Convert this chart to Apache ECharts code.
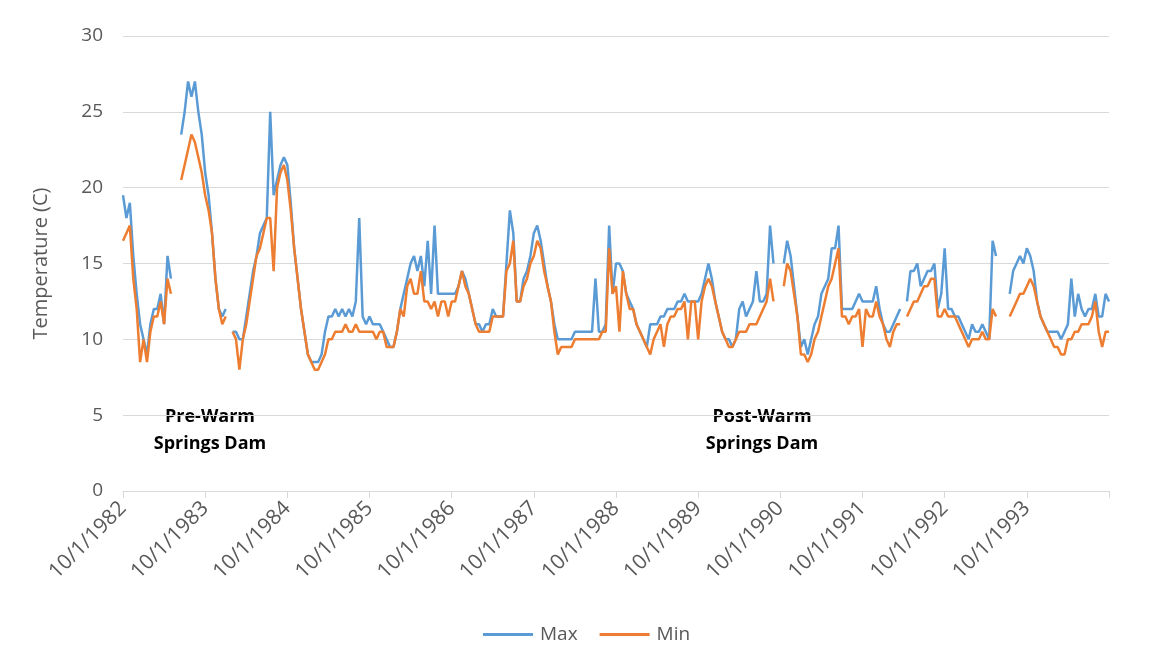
<!DOCTYPE html>
<html>
<head>
<meta charset="utf-8">
<script src="https://cdn.jsdelivr.net/npm/echarts@6/dist/echarts.min.js"></script>
<style>
  html, body { margin: 0; padding: 0; background: #ffffff; }
  #chart { width: 1152px; height: 669px; }
</style>
</head>
<body>
<div id="chart"></div>
<script>
// X axis: years since 10/1/1982, tick labels every year
const tickLabels = ['10/1/1982','10/1/1983','10/1/1984','10/1/1985','10/1/1986','10/1/1987',
  '10/1/1988','10/1/1989','10/1/1990','10/1/1991','10/1/1992','10/1/1993',''];
const samplesPerYear = 24; // half-monthly readings from 10/1/1982

// Daily maximum water temperature (C), half-monthly readings, one row per water year
const maxTemp = [
  19.5,18,19,15.5,13,11,10,9,11,12,12,13,11,15.5,14,null,null,23.5,25,27,26,27,25,23.5,
  21,19.5,17,14,12,11.5,12,null,10.5,10.5,10,10,11.5,13,14.5,15.5,17,17.5,18,25,19.5,20.5,21.5,22,
  21.5,19,16,14,12,10.5,9,8.5,8.5,8.5,9,10.5,11.5,11.5,12,11.5,12,11.5,12,11.5,12.5,18,11.5,11,
  11.5,11,11,11,10.5,10,9.5,9.5,10.5,12,13,14,15,15.5,14.5,15.5,13.5,16.5,13,17.5,13,13,13,13,
  13,13,13.5,14.5,14,13,12,11,11,10.5,11,11,12,11.5,11.5,11.5,15,18.5,17,12.5,12.5,14,14.5,15.5,
  17,17.5,16.5,15,13.5,12.5,11,10,10,10,10,10,10.5,10.5,10.5,10.5,10.5,10.5,14,10.5,10.5,11,17.5,13,
  15,15,14.5,13,12.5,12,11,10.5,10,9.5,11,11,11,11.5,11.5,12,12,12,12.5,12.5,13,12.5,12.5,12.5,
  12.5,13,14,15,14,12.5,11.5,10.5,10,10,9.5,10,12,12.5,11.5,12,12.5,14.5,12.5,12.5,13,17.5,15,null,
  null,15,16.5,15.5,13.5,11.5,9.5,10,9,10,11,11.5,13,13.5,14,16,16,17.5,12,12,12,12,12.5,13,
  12.5,12.5,12.5,12.5,13.5,12,11,10.5,10.5,11,11.5,12,null,12.5,14.5,14.5,15,13.5,14,14.5,14.5,15,12,13,
  16,12,12,11.5,11.5,11,10.5,10,11,10.5,10.5,11,10.5,10,16.5,15.5,null,null,null,13,14.5,15,15.5,15,
  16,15.5,14.5,12.5,11.5,11,10.5,10.5,10.5,10.5,10,10.5,11,14,11.5,13,12,11.5,12,12,13,11.5,11.5,13,12.5
];

// Daily minimum water temperature (C), same readings
const minTemp = [
  16.5,17,17.5,14,12,8.5,10,8.5,10.5,11.5,11.5,12.5,11,14,13,null,null,20.5,21.5,22.5,23.5,23,22,21,
  19.5,18.5,17,14,12,11,11.5,null,10.5,10,8,10,11,12.5,14,15.5,16,17,18,18,14.5,20,21,21.5,
  20.5,18.5,16,14,12,10.5,9,8.5,8,8,8.5,9,10,10,10.5,10.5,10.5,11,10.5,10.5,11,10.5,10.5,10.5,
  10.5,10.5,10,10.5,10.5,9.5,9.5,9.5,10.5,12,11.5,13.5,14,13,13,14.5,12.5,12.5,12,12.5,11.5,12.5,12.5,11.5,
  12.5,12.5,13.5,14.5,13.5,13,12,11,10.5,10.5,10.5,10.5,11.5,11.5,11.5,11.5,14.5,15,16.5,12.5,12.5,13.5,14,15,
  15.5,16.5,16,14.5,13.5,12.5,10.5,9,9.5,9.5,9.5,9.5,10,10,10,10,10,10,10,10,10.5,10.5,16,13,
  13.5,10.5,14.5,13,12,12,11,10.5,10,9.5,9,10,10.5,11,9.5,11,11.5,11.5,12,12,12.5,10,12.5,12.5,
  10,12.5,13.5,14,13.5,12.5,11.5,10.5,10,9.5,9.5,10,10.5,10.5,10.5,11,11,11,11.5,12,12.5,14,12.5,null,
  null,13.5,15,14.5,13,11.5,9,9,8.5,9,10,10.5,11.5,12.5,13.5,14,15,16,11.5,11.5,11,11.5,11.5,12,
  9.5,12,11.5,11.5,12.5,11.5,11,10,9.5,10.5,11,11,null,11.5,12,12.5,12.5,13,13.5,13.5,14,14,11.5,11.5,
  12,11.5,11.5,11.5,11,10.5,10,9.5,10,10,10,10.5,10,10,12,11.5,null,null,null,11.5,12,12.5,13,13,
  13.5,14,13.5,12.5,11.5,11,10.5,10,9.5,9.5,9,9,10,10,10.5,10.5,11,11,11,11.5,12.5,10.5,9.5,10.5,10.5
];

const seriesNames = ['Max', 'Min'];
const yTicks = { min: 0, max: 30, step: 5 };

const toPairs = arr => arr.map((v, i) => [i / samplesPerYear, v]);

const chart = echarts.init(document.getElementById('chart'), null, { renderer: 'canvas' });
const textColor = '#595959';
const font = '"Open Sans", "Liberation Sans", sans-serif';

chart.setOption({
  backgroundColor: '#ffffff',
  animation: false,
  textStyle: { fontFamily: font },
  grid: { left: 123, right: 43, top: 36, bottom: 178, outerBoundsMode: 'none', containLabel: false },
  legend: {
    data: seriesNames,
    left: 483,
    top: 625,
    padding: 0,
    icon: 'rect',
    itemWidth: 50,
    itemHeight: 3,
    itemGap: 22,
    textStyle: { color: textColor, fontSize: 19, fontFamily: font, padding: [0, 0, 0, 2] }
  },
  xAxis: {
    type: 'value',
    min: 0,
    max: tickLabels.length - 1,
    interval: 1,
    axisLine: { show: true, lineStyle: { color: '#d9d9d9', width: 1 } },
    axisTick: { show: true, length: 7, lineStyle: { color: '#d9d9d9' } },
    splitLine: { show: false },
    axisLabel: {
      rotate: 45,
      margin: 14,
      color: textColor,
      fontSize: 21,
      fontFamily: font,
      showMaxLabel: true,
      formatter: v => tickLabels[Math.round(v)] || ''
    }
  },
  yAxis: {
    type: 'value',
    min: yTicks.min,
    max: yTicks.max,
    interval: yTicks.step,
    name: 'Temperature (C)',
    nameLocation: 'middle',
    nameGap: 72,
    nameRotate: 90,
    nameTextStyle: { color: textColor, fontSize: 20, fontFamily: font },
    axisLine: { show: false },
    axisTick: { show: false },
    splitLine: { lineStyle: { color: '#d9d9d9', width: 1 } },
    axisLabel: { color: textColor, fontSize: 19, fontFamily: font, margin: 20 }
  },
  graphic: [
    {
      type: 'text', x: 210, y: 403,
      style: { text: 'Pre-Warm\nSprings Dam', fill: '#000000', font: 'bold 18px "Open Sans", sans-serif',
               textAlign: 'center', textVerticalAlign: 'top', lineHeight: 27 }
    },
    {
      type: 'text', x: 762, y: 403,
      style: { text: 'Post-Warm\nSprings Dam', fill: '#000000', font: 'bold 18px "Open Sans", sans-serif',
               textAlign: 'center', textVerticalAlign: 'top', lineHeight: 27 }
    }
  ],
  series: [
    {
      name: seriesNames[0], type: 'line', data: toPairs(maxTemp),
      showSymbol: false, symbol: 'none', connectNulls: false,
      lineStyle: { color: '#5B9BD5', width: 2.5 }, itemStyle: { color: '#5B9BD5' }
    },
    {
      name: seriesNames[1], type: 'line', data: toPairs(minTemp),
      showSymbol: false, symbol: 'none', connectNulls: false,
      lineStyle: { color: '#ED7D31', width: 2.5 }, itemStyle: { color: '#ED7D31' }
    }
  ]
});
</script>
</body>
</html>
